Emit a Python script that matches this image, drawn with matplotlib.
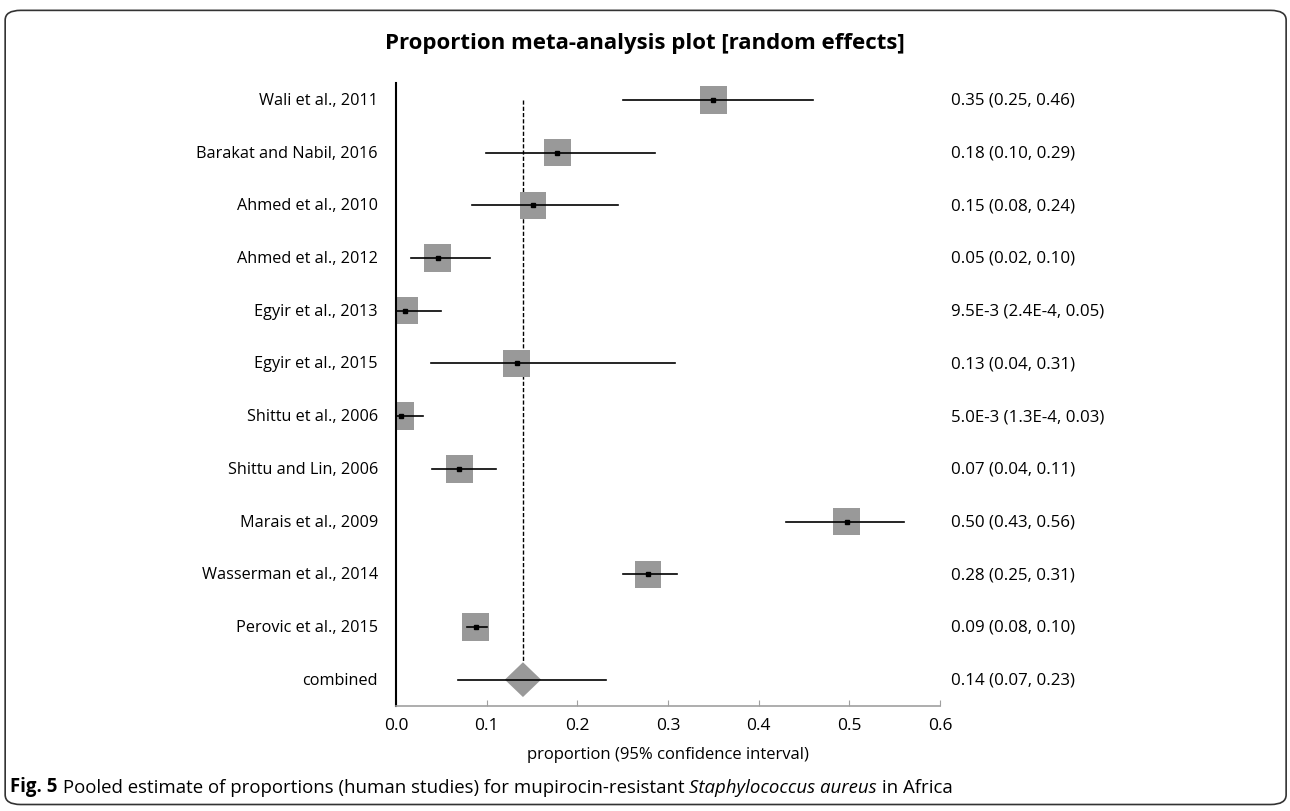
"""Forest plot: pooled proportion meta-analysis (random effects)."""

import matplotlib

matplotlib.use("Agg")
import matplotlib.pyplot as plt
from matplotlib.patches import FancyBboxPatch, Polygon

plt.rcParams["font.family"] = ["Open Sans", "DejaVu Sans"]

studies = [
    "Wali et al., 2011", "Barakat and Nabil, 2016", "Ahmed et al., 2010",
    "Ahmed et al., 2012", "Egyir et al., 2013", "Egyir et al., 2015",
    "Shittu et al., 2006", "Shittu and Lin, 2006", "Marais et al., 2009",
    "Wasserman et al., 2014", "Perovic et al., 2015",
]
est = [0.35, 0.178, 0.151, 0.046, 0.0095, 0.133, 0.005, 0.07, 0.497, 0.278, 0.088]
lo = [0.25, 0.099, 0.084, 0.017, 0.00024, 0.039, 0.00013, 0.04, 0.43, 0.25, 0.078]
hi = [0.46, 0.286, 0.245, 0.104, 0.05, 0.308, 0.03, 0.11, 0.56, 0.31, 0.10]
ci_text = [
    "0.35 (0.25, 0.46)", "0.18 (0.10, 0.29)", "0.15 (0.08, 0.24)",
    "0.05 (0.02, 0.10)", "9.5E-3 (2.4E-4, 0.05)", "0.13 (0.04, 0.31)",
    "5.0E-3 (1.3E-4, 0.03)", "0.07 (0.04, 0.11)", "0.50 (0.43, 0.56)",
    "0.28 (0.25, 0.31)", "0.09 (0.08, 0.10)",
]
pooled = 0.14
pooled_lo, pooled_hi = 0.068, 0.232
pooled_box = (0.12, 0.16)
pooled_text = "0.14 (0.07, 0.23)"
xticks = [0.0, 0.1, 0.2, 0.3, 0.4, 0.5, 0.6]

fig = plt.figure(figsize=(12.9, 8.12), dpi=100)
ax = fig.add_axes([0.307, 0.1293, 0.4217, 0.7673])

n = len(studies)
ax.set_xlim(0, 0.6)
ax.set_ylim(n + 0.5, -0.32)

half_w = 0.0148
for i in range(n):
    ax.plot([lo[i], hi[i]], [i, i], color="black", lw=1.2, zorder=3)
    sq = plt.Rectangle((est[i] - half_w, i - 0.26), 2 * half_w, 0.52,
                       facecolor="#999999", edgecolor="none", zorder=2)
    ax.add_patch(sq)
    ax.plot(est[i], i, "s", color="black", ms=2.2, zorder=4)
    ax.text(-0.02, i, studies[i], ha="right", va="center", fontsize=11.7,
            clip_on=False)
    ax.text(0.612, i, ci_text[i], ha="left", va="center", fontsize=12.2,
            clip_on=False)

# combined estimate
ax.plot([pooled_lo, pooled_hi], [n, n], color="black", lw=1.2, zorder=3)
diamond = Polygon([(pooled_box[0], n), (pooled, n - 0.33), (pooled_box[1], n),
                   (pooled, n + 0.33)], closed=True, facecolor="#999999",
                  edgecolor="none", zorder=2)
ax.add_patch(diamond)
ax.text(-0.02, n, "combined", ha="right", va="center", fontsize=11.7, clip_on=False)
ax.text(0.612, n, pooled_text, ha="left", va="center", fontsize=12.2, clip_on=False)

ax.plot([pooled, pooled], [0, n - 0.33], color="black", lw=1.0,
        ls=(0, (3, 1.5)), zorder=1)

for s in ["top", "right"]:
    ax.spines[s].set_visible(False)
ax.spines["left"].set_color("black")
ax.spines["left"].set_linewidth(1.5)
ax.spines["bottom"].set_color("#a0a0a0")
ax.spines["bottom"].set_linewidth(1.2)
ax.set_yticks([])
ax.set_xticks(xticks)
ax.set_xticklabels([f"{t:.1f}" for t in xticks], fontsize=12.5)
ax.tick_params(axis="x", direction="in", length=4, color="#a0a0a0", pad=8)
ax.set_xlabel("proportion (95% confidence interval)", fontsize=12, labelpad=9)

fig.text(0.5, 0.947, "Proportion meta-analysis plot [random effects]",
         ha="center", va="center", fontsize=16, fontweight="bold")

# caption: bold label, plain text, italic species name, plain tail
cap_size = 13.4
anchor = fig.text(0.008, 0.031, "Fig. 5", ha="left", va="center",
                  fontsize=cap_size, fontweight="bold")
parts = [(" Pooled estimate of proportions (human studies) for "
          "mupirocin-resistant ", "normal"),
         ("Staphylococcus aureus", "italic"),
         (" in Africa", "normal")]
for txt, style in parts:
    anchor = ax.annotate(txt, xy=(1, 0), xycoords=anchor, fontsize=cap_size,
                         style=style, ha="left", va="bottom",
                         annotation_clip=False)

border = FancyBboxPatch((0.004, 0.008), 0.993, 0.978,
                        boxstyle="round,pad=0,rounding_size=0.012",
                        transform=fig.transFigure, facecolor="none",
                        edgecolor="#333333", lw=1.2)
fig.patches.append(border)

fig.savefig("out.png", dpi=100)
